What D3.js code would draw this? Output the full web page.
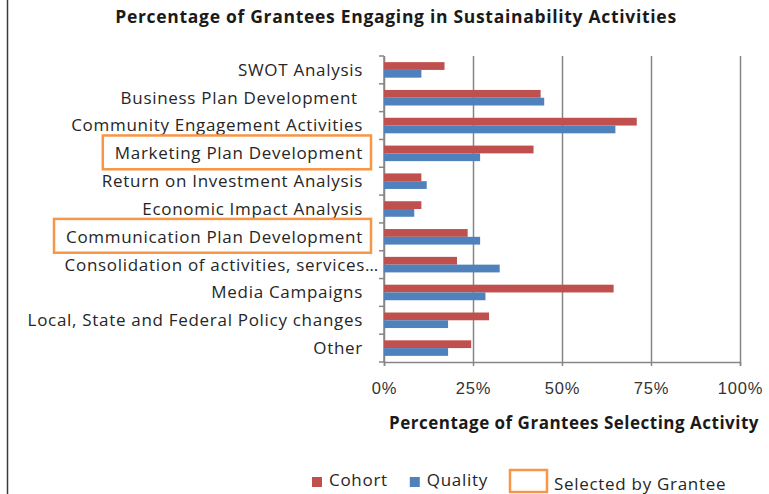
<!DOCTYPE html>
<html>
<head>
<style>
body { margin: 0; background: #fff; }
svg { font-family: "Open Sans", sans-serif; }
.label { font-size: 17px; letter-spacing: 0.7px; fill: #262626; white-space: pre; }
.tick-label { font-size: 16.5px; letter-spacing: 0.8px; fill: #333; }
.title { font-size: 17.5px; letter-spacing: 0.7px; font-weight: bold; fill: #1a1a1a; }
.axis-title { font-size: 17px; letter-spacing: 0.5px; font-weight: bold; fill: #1a1a1a; }
</style>
</head>
<body>
<div id="container"></div>
<script src="https://d3js.org/d3.v7.min.js"></script>
<script>
const width = 769, height = 494;

const categories = [
  "SWOT Analysis",
  "Business Plan Development ",
  "Community Engagement Activities",
  "Marketing Plan Development",
  "Return on Investment Analysis",
  "Economic Impact Analysis",
  "Communication Plan Development",
  "Consolidation of activities, services\u2026",
  "Media Campaigns",
  "Local, State and Federal Policy changes",
  "Other"
];
const cohort  = [17, 44, 71, 42, 10.5, 10.5, 23.5, 20.5, 64.5, 29.5, 24.5];
const quality = [10.5, 45, 65, 27, 12, 8.5, 27, 32.5, 28.5, 18, 18];
const highlighted = ["Marketing Plan Development", "Communication Plan Development"];
const xTicks = [0, 25, 50, 75, 100];
const series = ["Cohort", "Quality"];
const colors = ["#C0504D", "#4F81BD"];

const margin = {top: 56, left: 384, right: 29, bottom: 132};

const svg = d3.select('#container').append('svg')
    .attr('width', width).attr('height', height);

// frame line at the left edge
svg.append('line').attr('x1', 7.5).attr('x2', 7.5).attr('y1', 0).attr('y2', height)
    .attr('stroke', '#3a3a3a').attr('stroke-width', 1.5);

const x = d3.scaleLinear().domain([0, 100]).range([margin.left, width - margin.right]);
const y = d3.scaleBand().domain(categories).range([margin.top, height - margin.bottom]);
const ySub = d3.scaleBand().domain(series).range([0, y.bandwidth()]).paddingOuter(0.79);

// gridlines
svg.append('g')
    .attr('transform', `translate(0,${margin.top})`)
    .call(d3.axisBottom(x).tickValues(xTicks).tickSize(y.range()[1] - margin.top).tickFormat(''))
    .call(g => g.select('.domain').remove())
    .call(g => g.selectAll('line').attr('stroke', '#868686').attr('stroke-width', 1.5));

// bottom axis
svg.append('g')
    .attr('transform', `translate(0,${y.range()[1]})`)
    .call(d3.axisBottom(x).tickValues(xTicks).tickSize(4).tickPadding(16).tickFormat(d => d + '%'))
    .call(g => g.select('.domain').attr('stroke', '#868686').attr('stroke-width', 1.5))
    .call(g => g.selectAll('line').attr('stroke', '#868686').attr('stroke-width', 1.5))
    .call(g => g.selectAll('text').attr('class', 'tick-label').attr('fill', '#333'));

// left axis line with ticks at category boundaries
const yAxis = svg.append('g');
yAxis.append('line')
    .attr('x1', x(0)).attr('x2', x(0))
    .attr('y1', y.range()[0]).attr('y2', y.range()[1])
    .attr('stroke', '#868686').attr('stroke-width', 1.5);
yAxis.selectAll('.btick')
    .data(categories.map(c => y(c)).concat([y.range()[1]]))
    .join('line')
    .attr('x1', x(0) - 5).attr('x2', x(0))
    .attr('y1', d => d).attr('y2', d => d)
    .attr('stroke', '#868686').attr('stroke-width', 1.5);

// category labels
const labels = svg.append('g').selectAll('text')
    .data(categories)
    .join('text')
    .attr('class', 'label')
    .attr('text-anchor', 'end')
    .attr('x', d => d.endsWith('\u2026') ? x(0) - 5 : x(0) - 21)
    .attr('y', d => y(d) + y.bandwidth() / 2)
    .attr('dy', '0.35em')
    .text(d => d);

// orange highlight boxes around selected labels
labels.filter(d => highlighted.includes(d)).each(function(d) {
  const b = this.getBBox();
  svg.append('rect')
    .attr('x', b.x - 12).attr('y', y(d) - 4)
    .attr('width', b.width + 20).attr('height', y.bandwidth() + 6)
    .attr('fill', 'none').attr('stroke', '#F79646').attr('stroke-width', 2.5);
});

// bars
const rows = categories.map((c, i) => ({c, values: [cohort[i], quality[i]]}));
svg.append('g').selectAll('g')
    .data(rows)
    .join('g')
    .attr('transform', d => `translate(0,${y(d.c)})`)
    .selectAll('rect')
    .data(d => d.values.map((v, j) => ({s: series[j], v, color: colors[j]})))
    .join('rect')
    .attr('x', x(0))
    .attr('y', d => ySub(d.s))
    .attr('width', d => x(d.v) - x(0))
    .attr('height', ySub.bandwidth())
    .attr('fill', d => d.color);

// titles
svg.append('text').attr('class', 'title')
    .attr('x', 396).attr('y', 23).attr('text-anchor', 'middle')
    .text('Percentage of Grantees Engaging in Sustainability Activities');
svg.append('text').attr('class', 'axis-title')
    .attr('x', 574).attr('y', 429).attr('text-anchor', 'middle')
    .text('Percentage of Grantees Selecting Activity');

// legend
const legend = svg.append('g').attr('transform', 'translate(312,477)');
let lx = 0;
series.forEach((s, i) => {
  legend.append('rect').attr('x', lx).attr('y', 0).attr('width', 10).attr('height', 10)
      .attr('fill', colors[i]);
  const t = legend.append('text').attr('class', 'label')
      .attr('x', lx + 17).attr('y', 9).text(s);
  lx += 17 + t.node().getComputedTextLength() + 22;
});
legend.append('rect').attr('x', 198).attr('y', -7).attr('width', 37).attr('height', 22)
    .attr('fill', 'none').attr('stroke', '#F79646').attr('stroke-width', 2.5);
legend.append('text').attr('class', 'label')
    .attr('x', 242).attr('y', 13).text('Selected by Grantee');
</script>
</body>
</html>
